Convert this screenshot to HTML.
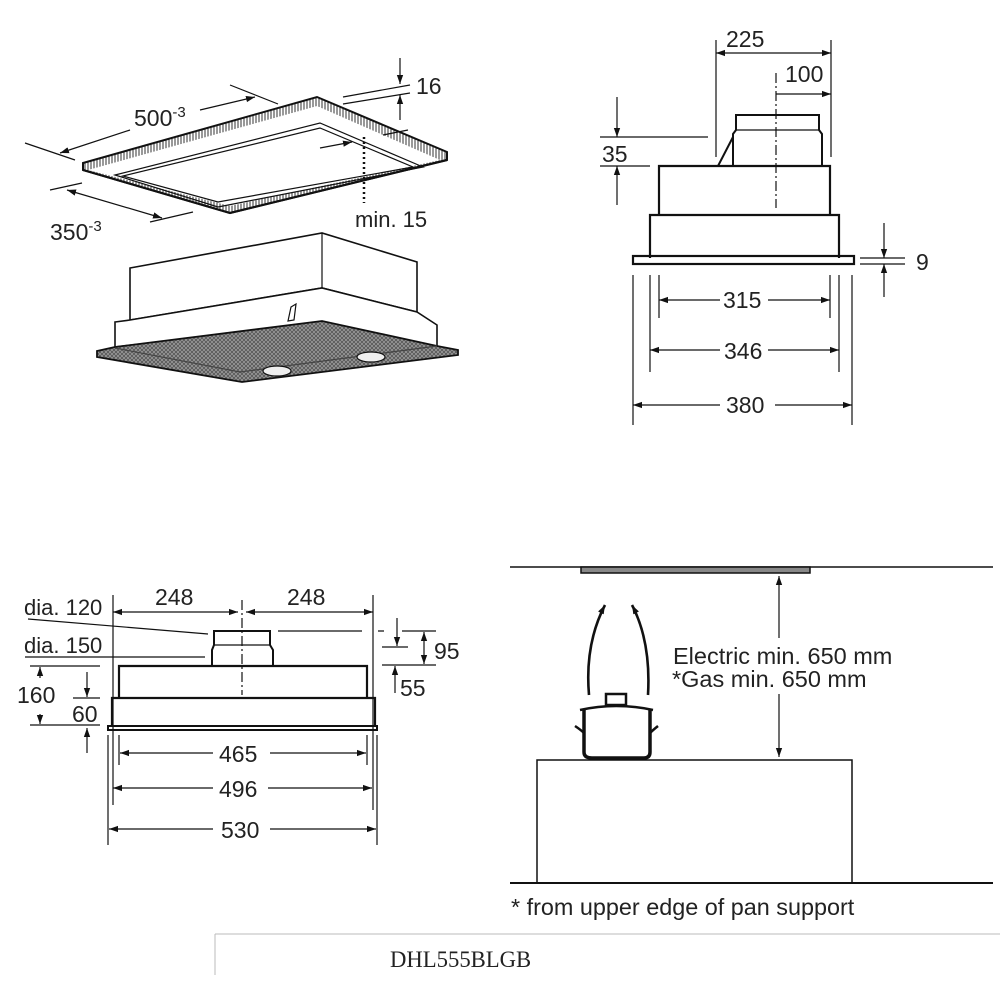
<!DOCTYPE html>
<html><head><meta charset="utf-8"><style>body{margin:0;background:#fff}svg{display:block}text{font-family:"Liberation Sans",sans-serif;fill:#222}</style></head><body>
<svg width="1000" height="1000" viewBox="0 0 1000 1000" xmlns="http://www.w3.org/2000/svg">
<defs>
<marker id="a" viewBox="0 0 10 10" refX="10" refY="5" markerWidth="9" markerHeight="9" markerUnits="userSpaceOnUse" orient="auto-start-reverse"><path d="M0,1.5 L10,5 L0,8.5 z" fill="#111"/></marker>
<pattern id="mesh" width="4" height="4" patternUnits="userSpaceOnUse"><rect width="4" height="4" fill="#9a9a9a"/><path d="M0,0 L4,4 M4,0 L0,4" stroke="#555" stroke-width="0.8"/></pattern>
<pattern id="hatch" width="3" height="3" patternUnits="userSpaceOnUse"><rect width="3" height="3" fill="#fff"/><path d="M1,0 V3" stroke="#333" stroke-width="1"/></pattern>
</defs>
<g stroke="#111" fill="none" stroke-width="1.2">
<!-- top-left ceiling panel -->
<polygon points="83,163 317,97 447,152 447,160 230,213 83,170" fill="url(#hatch)" stroke-width="2"/>
<polygon points="88,170 317,106 440,160 230,206" fill="#fff" stroke="none"/>
<path d="M83,170 L230,213 L447,160" stroke-width="2.2"/>
<polygon points="115,175 320,123 423,167 218,207"/>
<polygon points="123,176 320,128 413,167 218,202"/>
<!-- dims top-left -->
<line x1="25" y1="143" x2="75" y2="160"/><line x1="230" y1="85" x2="278" y2="104"/>
<line x1="60" y1="153" x2="130" y2="130" marker-start="url(#a)"/><line x1="200" y1="110" x2="255" y2="97" marker-end="url(#a)"/>
<line x1="50" y1="190" x2="82" y2="183"/><line x1="150" y1="222" x2="193" y2="212"/>
<line x1="67" y1="190" x2="162" y2="218" marker-start="url(#a)" marker-end="url(#a)"/>
<line x1="343" y1="97" x2="410" y2="85"/><line x1="343" y1="104" x2="410" y2="93"/>
<line x1="400" y1="58" x2="400" y2="84" marker-end="url(#a)"/><line x1="400" y1="120" x2="400" y2="95" marker-end="url(#a)"/>
<line x1="383" y1="135" x2="408" y2="130"/>
<line x1="320" y1="148" x2="352" y2="142" marker-end="url(#a)"/>
<line x1="364" y1="137" x2="364" y2="203" stroke-dasharray="2,3" stroke-width="2.5"/>
<!-- hood iso -->
<polygon points="130,268 322,233 417,262 417,312 322,288 130,320" fill="#fff" stroke-width="1.6"/>
<line x1="322" y1="233" x2="322" y2="288"/>
<polygon points="115,322 130,320 322,288 417,312 437,325 437,348 322,323 115,347" fill="#fff" stroke-width="1.6"/>
<polygon points="97,351 115,347 322,321 437,346 458,350 458,355 242,382 97,357" fill="url(#mesh)" stroke-width="1.8"/>
<path d="M115,348 L240,372 L437,346" stroke="#444"/>
<ellipse cx="277" cy="371" rx="14" ry="5" fill="#eee"/>
<ellipse cx="371" cy="357" rx="14" ry="5" fill="#eee"/>
<path d="M288,321 L291,307 L296,304 L294,320 z" fill="#fff"/>
<!-- top-right side view -->
<path d="M716,40 V157 M831,40 V157"/>
<line x1="716" y1="53" x2="831" y2="53" marker-start="url(#a)" marker-end="url(#a)"/>
<line x1="776" y1="73" x2="776" y2="208" stroke-dasharray="10,3,2,3"/>
<line x1="776" y1="94" x2="831" y2="94" marker-end="url(#a)"/>
<path d="M736,130 V115 H819 V130 L822,134 V166 M736,130 L733,134 V166" stroke-width="2"/>
<line x1="736" y1="130" x2="819" y2="130"/>
<path d="M718,166 L733,137" stroke-width="2"/>
<path d="M659,215 V166 H830 V215" stroke-width="2.2"/>
<path d="M650,258 V215 H839 V258" stroke-width="2.2"/>
<rect x="633" y="256" width="221" height="8" stroke-width="2.2"/>
<path d="M600,137 H708 M600,166 H650"/>
<line x1="617" y1="97" x2="617" y2="137" marker-end="url(#a)"/><line x1="617" y1="205" x2="617" y2="166" marker-end="url(#a)"/>
<path d="M860,258 H905 M860,264 H905"/>
<line x1="884" y1="223" x2="884" y2="258" marker-end="url(#a)"/><line x1="884" y1="297" x2="884" y2="264" marker-end="url(#a)"/>
<path d="M659,275 V318 M830,275 V318 M650,275 V372 M839,275 V372 M633,275 V425 M852,275 V425"/>
<line x1="720" y1="300" x2="659" y2="300" marker-end="url(#a)"/><line x1="768" y1="300" x2="830" y2="300" marker-end="url(#a)"/>
<line x1="720" y1="350" x2="650" y2="350" marker-end="url(#a)"/><line x1="768" y1="350" x2="839" y2="350" marker-end="url(#a)"/>
<line x1="720" y1="405" x2="633" y2="405" marker-end="url(#a)"/><line x1="775" y1="405" x2="852" y2="405" marker-end="url(#a)"/>
<!-- bottom-left front view -->
<path d="M113,595 V805 M373,595 V810"/>
<line x1="113" y1="612" x2="238" y2="612" marker-start="url(#a)" marker-end="url(#a)"/>
<line x1="246" y1="612" x2="373" y2="612" marker-start="url(#a)" marker-end="url(#a)"/>
<line x1="242" y1="600" x2="242" y2="695" stroke-dasharray="10,3,2,3"/>
<path d="M28,619 L208,634 M25,657 H205"/>
<path d="M214,645 V631 H270 V645 L273,650 V666 M214,645 L212,650 V666" stroke-width="2"/>
<line x1="214" y1="645" x2="270" y2="645"/>
<path d="M119,698 V666 H367 V698" stroke-width="2.2"/>
<path d="M112,726 V698 H375 V726" stroke-width="2.2"/>
<rect x="108" y="726" width="269" height="4" stroke-width="2"/>
<path d="M30,666 H100 M30,725 H100 M73,698 H100"/>
<line x1="40" y1="678" x2="40" y2="667" marker-end="url(#a)"/><line x1="40" y1="714" x2="40" y2="724" marker-end="url(#a)"/>
<line x1="87" y1="672" x2="87" y2="697" marker-end="url(#a)"/><line x1="87" y1="753" x2="87" y2="728" marker-end="url(#a)"/>
<path d="M278,631 H362 M378,631 H384 M402,631 H436 M382,647 H408 M382,665 H436"/>
<line x1="397" y1="618" x2="397" y2="646" marker-end="url(#a)"/>
<line x1="424" y1="632" x2="424" y2="664" marker-start="url(#a)" marker-end="url(#a)"/>
<line x1="395" y1="693" x2="395" y2="666" marker-end="url(#a)"/>
<path d="M119,735 V765 M367,735 V765 M108,735 V845 M377,735 V845"/>
<line x1="213" y1="753" x2="120" y2="753" marker-end="url(#a)"/><line x1="270" y1="753" x2="366" y2="753" marker-end="url(#a)"/>
<line x1="213" y1="788" x2="113" y2="788" marker-end="url(#a)"/><line x1="268" y1="788" x2="372" y2="788" marker-end="url(#a)"/>
<line x1="213" y1="829" x2="109" y2="829" marker-end="url(#a)"/><line x1="270" y1="829" x2="376" y2="829" marker-end="url(#a)"/>
<!-- bottom-right -->
<line x1="510" y1="567" x2="993" y2="567" stroke-width="1.5"/>
<rect x="581" y="567" width="229" height="6" fill="#888" stroke-width="1.5"/>
<line x1="779" y1="638" x2="779" y2="576" marker-end="url(#a)"/>
<line x1="779" y1="694" x2="779" y2="757" marker-end="url(#a)"/>
<rect x="537" y="760" width="315" height="123" stroke-width="1.5"/>
<line x1="510" y1="883" x2="993" y2="883" stroke-width="2"/>
<path d="M589,695 C586,660 592,630 605,605" stroke-width="2.6" marker-end="url(#a)"/>
<path d="M648,695 C650,660 645,630 632,605" stroke-width="2.6" marker-end="url(#a)"/>
<path d="M584,710 V752 Q584,758 592,758 H644 Q650,758 650,752 V710" stroke-width="3.5"/>
<path d="M580,710 Q616,702 653,710" stroke-width="2.5"/>
<rect x="606" y="694" width="20" height="11" stroke-width="2.5"/>
<path d="M575,726 Q581,730 584,733 M658,726 Q653,730 650,733" stroke-width="2.5"/>
<line x1="215" y1="934" x2="1000" y2="934" stroke="#bbb" stroke-width="1"/>
<line x1="215" y1="934" x2="215" y2="975" stroke="#bbb" stroke-width="1"/>
</g>
<g font-size="23">
<text x="134" y="126">500<tspan font-size="15" dy="-9">-3</tspan></text>
<text x="50" y="240">350<tspan font-size="15" dy="-9">-3</tspan></text>
<text x="416" y="94">16</text>
<text x="355" y="227" font-size="22">min. 15</text>
<text x="726" y="47">225</text>
<text x="785" y="82">100</text>
<text x="602" y="162">35</text>
<text x="916" y="270">9</text>
<text x="723" y="308">315</text>
<text x="724" y="359">346</text>
<text x="726" y="413">380</text>
<text x="155" y="605">248</text>
<text x="287" y="605">248</text>
<text x="24" y="615" font-size="22">dia. 120</text>
<text x="24" y="653" font-size="22">dia. 150</text>
<text x="17" y="703">160</text>
<text x="72" y="722">60</text>
<text x="434" y="659">95</text>
<text x="400" y="696">55</text>
<text x="219" y="762">465</text>
<text x="219" y="797">496</text>
<text x="221" y="838">530</text>
<text x="673" y="664" font-size="23.5">Electric min. 650 mm</text>
<text x="672" y="687" font-size="23.5">*Gas min. 650 mm</text>
<text x="511" y="915" font-size="23.4">* from upper edge of pan support</text>
<text x="390" y="967" font-size="22.7" style="font-family:'Liberation Serif',serif">DHL555BLGB</text>
</g>
</svg>
</body></html>
